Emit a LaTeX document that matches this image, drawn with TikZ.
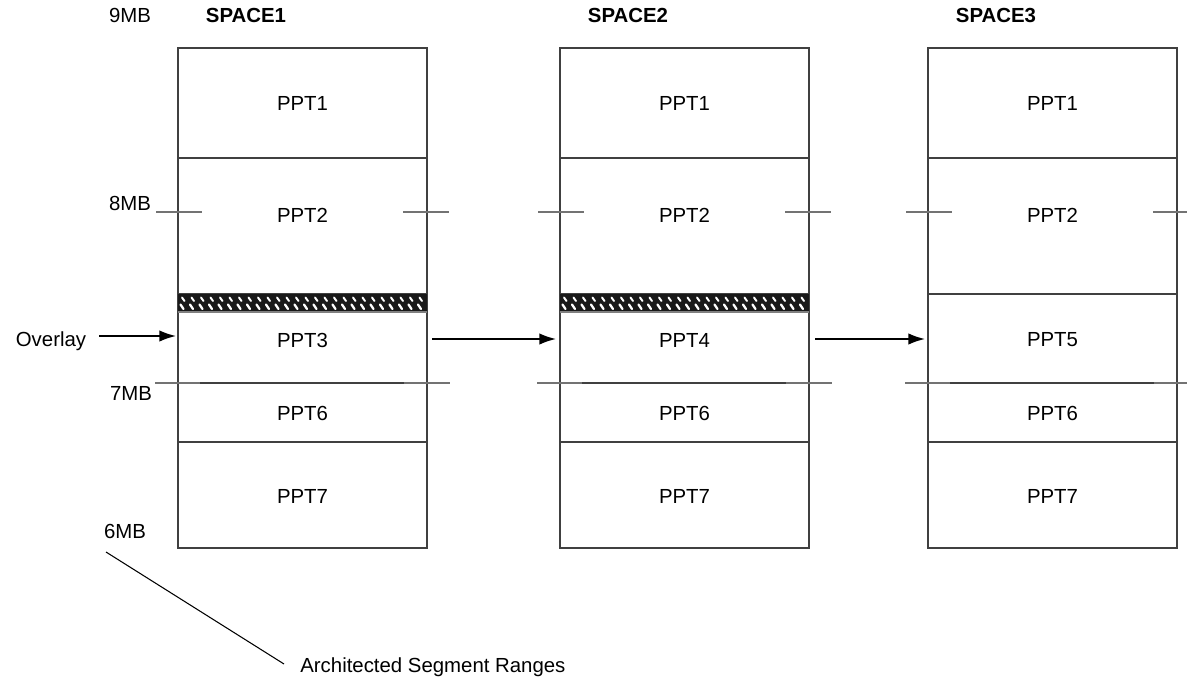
\documentclass[tikz,border=0pt]{standalone}
\usepackage{fontspec}
\setmainfont{Liberation Sans}
\usetikzlibrary{arrows.meta}

\tikzset{
    seg/.style={draw=black!75, line width=0.8pt},
    tick/.style={draw=black!55, line width=0.9pt},
    lbl/.style={font=\fontsize{11.6}{13}\selectfont, inner sep=0pt},
    head/.style={font=\fontsize{11.6}{13}\selectfont\bfseries, inner sep=0pt},
    move/.style={-{Latex[length=9.5pt,width=6.5pt]}, line width=0.9pt},
}

\begin{document}
\begin{tikzpicture}[x=0.02cm, y=-0.02cm]
    \useasboundingbox (0,0) rectangle (1187,683);

    % First the three address spaces
    \foreach \x/\sp/\mid in {178/1/PPT3, 560/2/PPT4, 928/3/PPT5} {
        \draw[seg] (\x,48) rectangle (\x+249,548);
        \draw[seg] (\x,158) -- (\x+249,158);
        \draw[seg] (\x,294) -- (\x+249,294);
        \draw[seg] (\x,383) -- (\x+249,383);
        \draw[seg] (\x,442) -- (\x+249,442);
        % ticks for the segment ranges
        \draw[tick] (\x-22,212) -- (\x+24,212);
        \draw[tick] (\x+225,212) -- (\x+271,212);
        \draw[tick] (\x-23,383) -- (\x+22,383);
        \draw[tick] (\x+226,383) -- (\x+272,383);
        \node[head] (sp\sp) at (\x+68,15) {SPACE\sp};
        \node[lbl] (p\sp-1) at (\x+124.5,103) {PPT1};
        \node[lbl] (p\sp-2) at (\x+124.5,215) {PPT2};
        \node[lbl] (p\sp-3) at (\x+124.5,340) {\mid};
        \node[lbl] (p\sp-6) at (\x+124.5,413) {PPT6};
        \node[lbl] (p\sp-7) at (\x+124.5,496) {PPT7};
    }

    % Now the overlaid area in the first two spaces
    \foreach \x in {178, 560} {
        \fill[black!90] (\x,294) rectangle (\x+249,312);
        \draw[black!50, line width=0.6pt] (\x,312) -- (\x+249,312);
        \foreach \i in {0,...,25} {
            \draw[white, line width=1.1pt, line cap=round] (\x+4+\i*9.5,297.5) -- (\x+6.5+\i*9.5,301);
            \draw[white, line width=1.3pt, line cap=round] (\x+2.5+\i*9.5,304.5) -- (\x+5.5+\i*9.5,309);
        }
    }

    % Now the sizes
    \node[lbl] (mb9) at (130,15) {9MB};
    \node[lbl] (mb8) at (130,203) {8MB};
    \node[lbl] (mb7) at (131,393) {7MB};
    \node[lbl] (mb6) at (125,531) {6MB};

    % Now the overlay arrows
    \node[lbl] (overlay) at (51,341) {Overlay};
    \coordinate (a0) at (176,336);
    \coordinate (a1s) at (432,339);
    \coordinate (a1e) at (556,339);
    \coordinate (a2s) at (815,339);
    \coordinate (a2e) at (925,339);
    \draw[move] (overlay.east |- a0) ++(13,0) -- (a0);
    \draw[move] (a1s) -- (a1e);
    \draw[move] (a2s) -- (a2e);

    % Now the note
    \node[lbl, anchor=west] (note) at (300,667) {Architected Segment Ranges};
    \coordinate (n0) at (106,552);
    \coordinate (n1) at (284,664);
    \draw[line width=0.6pt] (n0) -- (n1);

\end{tikzpicture}
\end{document}
